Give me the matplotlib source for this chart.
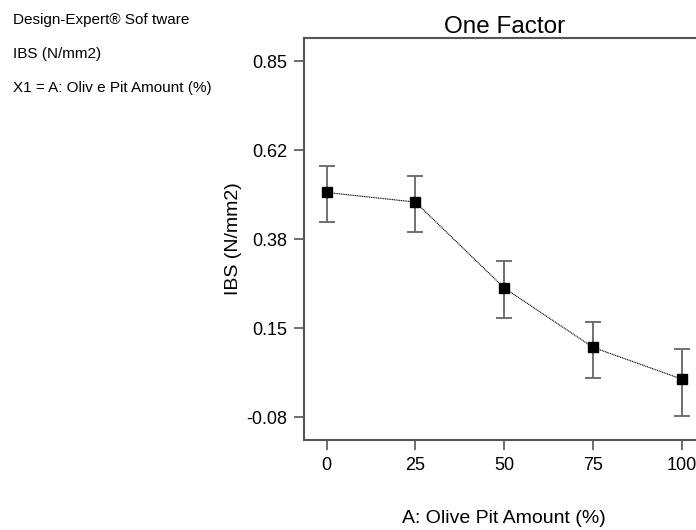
import matplotlib
matplotlib.use("Agg")
import matplotlib.pyplot as plt
import numpy as np

plt.rcParams['font.family'] = ['Liberation Sans', 'DejaVu Sans']

# data
amount = [0, 25, 50, 75, 100]
ibs = [0.507, 0.482, 0.258, 0.103, 0.020]
ibs_low = [0.431, 0.405, 0.179, 0.023, -0.077]
ibs_high = [0.577, 0.551, 0.328, 0.168, 0.099]

yticks = [-0.08, 0.1525, 0.385, 0.6175, 0.85]
yticklabels = ["-0.08", "0.15", "0.38", "0.62", "0.85"]
xticks = [0, 25, 50, 75, 100]

info_lines = ["Design-Expert\u00ae Sof tware", "IBS (N/mm2)", "X1 = A: Oliv e Pit Amount (%)"]

fig = plt.figure(figsize=(6.96, 5.30), dpi=100)
# axes run past the right edge of the figure, like the original export
ax = fig.add_axes([0.4372, 0.1698, 0.5743, 0.7591])

err = [np.array(ibs) - np.array(ibs_low), np.array(ibs_high) - np.array(ibs)]
ax.errorbar(amount, ibs, yerr=err, fmt='none', ecolor='#666666', elinewidth=1.3,
            capsize=6, capthick=1.3, zorder=2)
ax.plot(amount, ibs, color='black', linestyle=(0, (1, 0.6)), linewidth=0.8, zorder=3)
ax.plot(amount, ibs, 's', color='black', markersize=6.5, linestyle='none', zorder=4)

ax.set_xlim(-6.3, 106.3)
ax.set_ylim(-0.139, 0.911)
ax.set_xticks(xticks)
ax.set_yticks(yticks)
ax.set_yticklabels(yticklabels)

for s in ax.spines.values():
    s.set_color('#555555')
    s.set_linewidth(1.5)
ax.tick_params(direction='out', length=7, width=1.2, color='#555555',
               labelsize=13, pad=5)

ax.set_title("One Factor", fontsize=17.5, pad=3)
ax.set_xlabel("A: Olive Pit Amount (%)", fontsize=14, labelpad=26)
ax.set_ylabel("IBS (N/mm2)", fontsize=14, labelpad=3)

for i, line in enumerate(info_lines):
    fig.text(13 / 696, 1 - (20 + 34 * i) / 530, line, fontsize=11, va='center', ha='left')

fig.savefig("out.png", dpi=100)
